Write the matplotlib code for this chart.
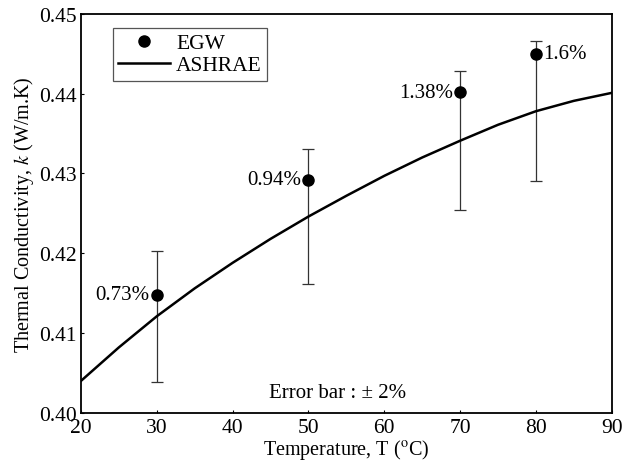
import matplotlib
matplotlib.use("Agg")
import matplotlib.pyplot as plt
import numpy as np

plt.rcParams['font.family'] = ['Liberation Serif', 'DejaVu Serif']
plt.rcParams['mathtext.fontset'] = 'stix'
plt.rcParams['font.size'] = 15

# ASHRAE reference curve
t_ashrae = [20, 25, 30, 35, 40, 45, 50, 55, 60, 65, 70, 75, 80, 85, 90]
k_ashrae = [0.4040, 0.4082, 0.4121, 0.4156, 0.4188, 0.4218, 0.4246, 0.4272,
            0.4297, 0.4320, 0.4341, 0.4361, 0.4378, 0.4391, 0.4401]

# measured EGW points
t_egw = [30, 50, 70, 80]
k_egw = [0.4148, 0.4292, 0.4402, 0.4450]
k_ref = [0.4121, 0.4246, 0.4341, 0.4378]   # ASHRAE value at each point (bar centre)
dev_labels = ['0.73%', '0.94%', '1.38%', '1.6%']

fig = plt.figure(figsize=(6.32, 4.64), dpi=100)
ax = fig.add_axes([0.128, 0.108, 0.840, 0.860])

ax.errorbar(t_egw, k_ref, yerr=[0.02 * k for k in k_ref], fmt='none',
            ecolor='#333333', elinewidth=0.9, capsize=4, capthick=0.9)
ax.plot(t_egw, k_egw, 'o', color='black', markersize=8, label='EGW')
ax.plot(t_ashrae, k_ashrae, '-', color='black', linewidth=1.8, label='ASHRAE')

for i in range(len(t_egw)):
    if i == len(t_egw) - 1:
        ax.annotate(dev_labels[i], (t_egw[i], k_egw[i]), xytext=(5, 0),
                    textcoords='offset points', ha='left', va='center', fontsize=15)
    else:
        ax.annotate(dev_labels[i], (t_egw[i], k_egw[i]), xytext=(-5, 0),
                    textcoords='offset points', ha='right', va='center', fontsize=15)

ax.text(53.9, 0.4026, 'Error bar : ± 2%', ha='center', va='center', fontsize=15)

ax.set_xlim(20, 90)
ax.set_ylim(0.40, 0.45)
ax.set_xticks(np.arange(20, 91, 10))
ax.set_yticks(np.arange(0.40, 0.451, 0.01))
ax.set_yticklabels(['0.40', '0.41', '0.42', '0.43', '0.44', '0.45'])
ax.tick_params(direction='in', length=2, labelsize=15.5)
ax.tick_params(axis='x', pad=4)
ax.tick_params(axis='y', pad=3)
for s in ax.spines.values():
    s.set_linewidth(1.3)

ax.set_xlabel('Temperature, T ($^{\\rm o}$C)', fontsize=14.5, labelpad=0)
ax.set_ylabel('Thermal Conductivity, $k$ (W/m.K)', fontsize=14.5, labelpad=2)

leg = ax.legend(loc='upper left', bbox_to_anchor=(0.06, 0.965), borderaxespad=0,
                fancybox=False, edgecolor='#555555', framealpha=1, fontsize=15.5,
                handlelength=2.4, borderpad=0.25, labelspacing=0.1, handletextpad=0.3)
leg.get_frame().set_linewidth(0.9)

fig.savefig('out.png', dpi=100)
